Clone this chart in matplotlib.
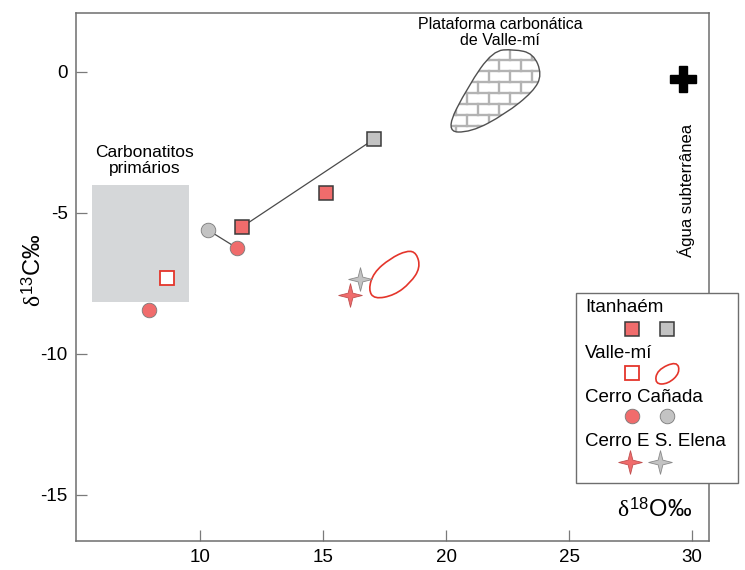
import matplotlib
matplotlib.use("Agg")
import matplotlib.pyplot as plt
from matplotlib.path import Path
from matplotlib.patches import PathPatch, Rectangle
from matplotlib.lines import Line2D

plt.rcParams['font.family'] = ['Liberation Sans', 'DejaVu Sans']
plt.rcParams['axes.unicode_minus'] = False
plt.rcParams['mathtext.fontset'] = 'custom'
plt.rcParams['mathtext.it'] = 'Liberation Serif'
plt.rcParams['mathtext.rm'] = 'Liberation Serif'
plt.rcParams['mathtext.sf'] = 'Liberation Sans'

# data (d18O, d13C)
itanhaem_red_x = [11.7, 15.1]
itanhaem_red_y = [-5.5, -4.3]
itanhaem_gray_x = [17.05]
itanhaem_gray_y = [-2.4]
itanhaem_line_x = [11.7, 17.05]
itanhaem_line_y = [-5.5, -2.4]

vallemi_x = [8.65]
vallemi_y = [-7.3]

canada_red_x = [7.9, 11.5]
canada_red_y = [-8.45, -6.25]
canada_gray_x = [10.3]
canada_gray_y = [-5.6]
canada_line_x = [10.3, 11.5]
canada_line_y = [-5.6, -6.25]

elena_red_x = [16.1]
elena_red_y = [-7.9]
elena_gray_x = [16.5]
elena_gray_y = [-7.35]

agua_x = [29.65]
agua_y = [-0.25]

# field: carbonatitos primarios (x0, x1, y0, y1)
carb_box = [5.6, 9.55, -8.15, -4.0]

RED = '#f06c6c'
GRAY = '#c3c3c3'
EDGE = '#3a3a3a'
OUTRED = '#e4352b'


def smooth_closed(pts):
    # quadratic b-spline path through midpoints of a closed control polygon
    n = len(pts)
    mids = [((pts[i][0] + pts[(i + 1) % n][0]) / 2,
             (pts[i][1] + pts[(i + 1) % n][1]) / 2) for i in range(n)]
    verts = [mids[-1]]
    codes = [Path.MOVETO]
    for i in range(n):
        verts += [pts[i], mids[i]]
        codes += [Path.CURVE3, Path.CURVE3]
    return Path(verts, codes)


star = Path([(0, 1), (0.2, 0.2), (1, 0), (0.2, -0.2), (0, -1),
             (-0.2, -0.2), (-1, 0), (-0.2, 0.2), (0, 1)],
            [Path.MOVETO] + [Path.LINETO] * 7 + [Path.CLOSEPOLY])

fig = plt.figure(figsize=(7.45, 5.7), dpi=100)
ax = fig.add_axes([0.102, 0.051, 0.8497, 0.926])

ax.set_xlim(4.95, 30.69)
ax.set_ylim(-16.63, 2.08)

# carbonatitos field
ax.add_patch(Rectangle((carb_box[0], carb_box[2]), carb_box[1] - carb_box[0],
                       carb_box[3] - carb_box[2], facecolor='#d5d7d9',
                       edgecolor='none', zorder=1))
ax.text(7.75, -3.15, 'Carbonatitos\nprimários', ha='center', va='center',
        fontsize=12.5, linespacing=1.05)

# plataforma carbonatica (teardrop with brick pattern)
plat_ctrl = [(19.95, -2.12), (20.9, -0.5), (21.9, 0.75), (22.75, 0.8),
             (23.55, 0.65), (23.9, -0.1), (23.55, -0.7), (22.4, -1.5),
             (21.0, -2.15)]
plat_path = smooth_closed(plat_ctrl)
plat = PathPatch(plat_path, facecolor='white', edgecolor='none', zorder=2)
ax.add_patch(plat)
bh = 0.39
bw = 0.89
row = 0
y = -2.3
while y < 1.0:
    ln = ax.plot([19.5, 24.5], [y, y], color='#b3b3b3', lw=1.7, zorder=2.5)[0]
    ln.set_clip_path(plat)
    off = 0 if row % 2 == 0 else bw / 2
    x = 19.5 + off
    while x < 24.5:
        v = ax.plot([x, x], [y, y + bh], color='#b3b3b3', lw=1.7, zorder=2.5)[0]
        v.set_clip_path(plat)
        x += bw
    y += bh
    row += 1
ax.add_patch(PathPatch(plat_path, facecolor='none', edgecolor='#505050',
                       lw=1.0, zorder=3))
ax.text(22.2, 1.38, 'Plataforma carbonática\nde Valle-mí', ha='center',
        va='center', fontsize=11.5, linespacing=1.1)

# valle-mi field outline
egg_ctrl = [(18.8, -6.42), (18.95, -6.95), (18.55, -7.48), (17.9, -7.92),
            (17.08, -8.06), (16.84, -7.72), (17.05, -7.12), (17.72, -6.62),
            (18.42, -6.33)]
ax.add_patch(PathPatch(smooth_closed(egg_ctrl), facecolor='none',
                       edgecolor=OUTRED, lw=1.2, zorder=3))

# lines
ax.plot(itanhaem_line_x, itanhaem_line_y, color='#4a4a4a', lw=0.9, zorder=3)
ax.plot(canada_line_x, canada_line_y, color='#4a4a4a', lw=0.9, zorder=3)

# points
ax.plot(itanhaem_red_x, itanhaem_red_y, 's', ms=10.5, mfc=RED, mec=EDGE,
        mew=1.1, ls='none', zorder=5)
ax.plot(itanhaem_gray_x, itanhaem_gray_y, 's', ms=10.5, mfc=GRAY, mec=EDGE,
        mew=1.1, ls='none', zorder=5)
ax.plot(vallemi_x, vallemi_y, 's', ms=9.5, mfc='white', mec=OUTRED,
        mew=1.3, ls='none', zorder=5)
ax.plot(canada_red_x, canada_red_y, 'o', ms=10.5, mfc=RED, mec='#7a7a7a',
        mew=0.6, ls='none', zorder=5)
ax.plot(canada_gray_x, canada_gray_y, 'o', ms=10.5, mfc=GRAY, mec='#7a7a7a',
        mew=0.6, ls='none', zorder=5)
ax.plot(elena_gray_x, elena_gray_y, marker=star, ms=17, mfc=GRAY,
        mec='#8a8a8a', mew=0.6, ls='none', zorder=5)
ax.plot(elena_red_x, elena_red_y, marker=star, ms=17, mfc=RED,
        mec='#c05050', mew=0.6, ls='none', zorder=6)
ax.plot(agua_x, agua_y, 'P', ms=19, color='black', ls='none', zorder=5)
ax.text(29.78, -4.2, 'Água subterrânea', rotation=90, ha='center',
        va='center', fontsize=12)

# axes styling
for s in ax.spines.values():
    s.set_color('#6e6e6e')
    s.set_linewidth(1.1)
ax.set_xticks([10, 15, 20, 25, 30])
ax.set_yticks([0, -5, -10, -15])
ax.tick_params(direction='in', length=8, width=0.9, color='#7a7a7a',
               labelsize=13.5, pad=6)
ax.set_ylabel(r'$\delta^{\mathsf{13}}$C‰', fontsize=17)
ax.yaxis.set_label_coords(-0.047, 0.513)

# legend box (manual, spills beyond axes)
W, H = 745.0, 570.0


def fx(px):
    return px / W


def fy(py):
    return 1 - py / H


fig.patches.append(Rectangle((fx(576), fy(483)), fx(738) - fx(576),
                             fy(293) - fy(483), transform=fig.transFigure,
                             facecolor='white', edgecolor='#6e6e6e', lw=1.0,
                             zorder=10))
leg_labels = ['Itanhaém', 'Valle-mí', 'Cerro Cañada', 'Cerro E S. Elena']
leg_text_y = [308, 353, 397, 441]
leg_mark_y = [329, 373, 416, 462]
for lab, ty in zip(leg_labels, leg_text_y):
    fig.text(fx(585), fy(ty), lab, ha='left', va='center', fontsize=13.5,
             zorder=11)


def legmark(px, py, **kw):
    fig.add_artist(Line2D([fx(px)], [fy(py)], transform=fig.transFigure,
                          ls='none', zorder=11, **kw))


legmark(632, leg_mark_y[0], marker='s', ms=10, mfc=RED, mec=EDGE, mew=1.1)
legmark(667, leg_mark_y[0], marker='s', ms=10, mfc=GRAY, mec=EDGE, mew=1.1)
legmark(632, leg_mark_y[1], marker='s', ms=10, mfc='white', mec=OUTRED, mew=1.3)
legmark(632, leg_mark_y[2], marker='o', ms=10.5, mfc=RED, mec='#7a7a7a', mew=0.6)
legmark(667, leg_mark_y[2], marker='o', ms=10.5, mfc=GRAY, mec='#7a7a7a', mew=0.6)
legmark(630, leg_mark_y[3], marker=star, ms=17, mfc=RED, mec='#c05050', mew=0.6)
legmark(660, leg_mark_y[3], marker=star, ms=17, mfc=GRAY, mec='#8a8a8a', mew=0.6)
# small egg in legend
egg_leg = [(fx(677), fy(361)), (fx(680), fy(373)), (fx(668), fy(384)),
           (fx(655), fy(384)), (fx(657), fy(370))]
fig.patches.append(PathPatch(smooth_closed(egg_leg), transform=fig.transFigure,
                             facecolor='none', edgecolor=OUTRED, lw=1.2,
                             zorder=11))

fig.text(fx(655), fy(510), r'$\delta^{\mathsf{18}}$O‰', ha='center',
         va='center', fontsize=17)

fig.savefig('out.png', dpi=100)
